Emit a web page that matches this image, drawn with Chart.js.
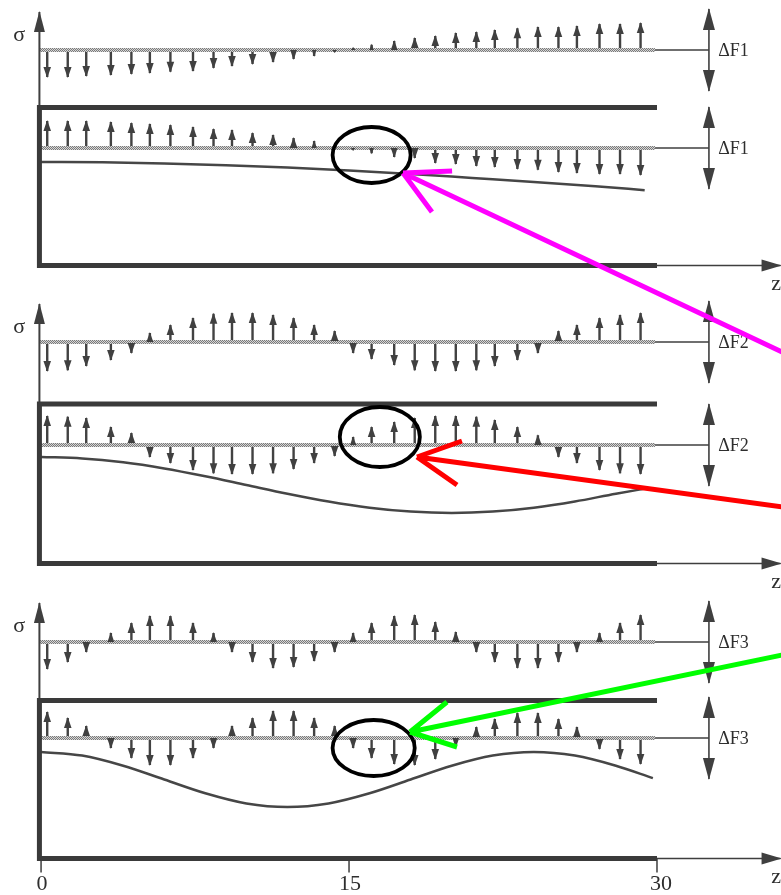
<!DOCTYPE html>
<html>
<head>
<meta charset="utf-8">
<title>Modes</title>
<script src="https://cdn.jsdelivr.net/npm/chart.js@4.4.1/dist/chart.umd.min.js"></script>
<style>
  html, body { margin: 0; padding: 0; background: #fff; }
  #wrap { position: relative; width: 781px; height: 895px; }
</style>
</head>
<body>
<div id="wrap"><canvas id="chart" width="781" height="895"></canvas></div>
<script>
// z positions of the stress arrows (same in every row)
const arrowZ = [0.3, 1.3, 2.2, 3.4, 4.4, 5.3, 6.3, 7.4, 8.4, 9.3, 10.3, 11.3, 12.3, 13.3, 14.3,
                15.2, 16.1, 17.2, 18.2, 19.2, 20.2, 21.2, 22.1, 23.2, 24.2, 25.2, 26.1, 27.2, 28.2, 29.2];

// stress, upper row / lower row of each mode (up = positive)
const sigmaTop1 = [-1.0, -1.0, -0.96, -0.93, -0.89, -0.85, -0.81, -0.78, -0.67, -0.59, -0.52, -0.44, -0.33, -0.22, -0.07,
                   0.07, 0.19, 0.33, 0.44, 0.52, 0.63, 0.67, 0.74, 0.81, 0.85, 0.85, 0.89, 0.96, 0.96, 1.0];
const sigmaBot1 = [1.0, 1.0, 1.0, 0.96, 0.93, 0.89, 0.85, 0.78, 0.70, 0.67, 0.56, 0.48, 0.37, 0.26, 0.05,
                   -0.07, -0.19, -0.33, -0.37, -0.56, -0.59, -0.67, -0.70, -0.78, -0.81, -0.89, -0.93, -0.96, -0.96, -1.0];
const sigmaTop2 = [-1.0, -0.97, -0.83, -0.62, -0.38, 0.31, 0.59, 0.83, 0.97, 1.0, 1.0, 0.93, 0.83, 0.59, 0.38,
                   -0.38, -0.59, -0.79, -0.97, -1.0, -1.0, -0.97, -0.83, -0.62, -0.38, 0.38, 0.59, 0.83, 0.93, 1.0];
const sigmaBot2 = [1.0, 0.97, 0.93, 0.62, 0.41, -0.41, -0.62, -0.86, -0.97, -1.0, -1.0, -0.97, -0.83, -0.62, -0.38,
                   0.28, 0.62, 0.79, 0.93, 1.0, 1.0, 0.97, 0.86, 0.62, 0.34, -0.41, -0.62, -0.86, -0.97, -1.0];
const sigmaTop3 = [-1.0, -0.74, -0.37, 0.33, 0.70, 0.96, 0.96, 0.70, 0.33, -0.37, -0.74, -0.96, -0.93, -0.70, -0.37,
                   0.33, 0.70, 0.96, 1.0, 0.74, 0.37, -0.37, -0.74, -0.96, -0.96, -0.74, -0.37, 0.33, 0.70, 1.0];
const sigmaBot3 = [0.96, 0.74, 0.44, -0.37, -0.74, -1.0, -1.0, -0.74, -0.37, 0.44, 0.74, 1.0, 1.0, 0.74, 0.44,
                   -0.37, -0.74, -0.96, -1.0, -0.78, -0.33, 0.41, 0.70, 0.93, 0.93, 0.70, 0.41, -0.41, -0.78, -0.96];

// deflection curves
const curveZ1 = [0, 3, 6, 9, 12, 15, 18, 21, 24, 27, 29.4];
const curveW1 = [1.0, 0.99, 0.95, 0.89, 0.81, 0.71, 0.59, 0.45, 0.31, 0.16, 0.03];
const curveZ2 = [0, 2, 4, 6, 8, 10, 12, 14, 16, 18, 20, 22, 24, 26, 28, 29.5];
const curveW2 = [1.0, 0.95, 0.81, 0.59, 0.31, 0.0, -0.31, -0.59, -0.81, -0.95, -1.0, -0.95, -0.81, -0.59, -0.31, -0.12];
const curveZ3 = [0, 2, 4, 6, 8, 10, 12, 14, 16, 18, 20, 22, 24, 26, 28, 29.8];
const curveW3 = [1.0, 0.87, 0.5, 0.0, -0.5, -0.87, -1.0, -0.87, -0.5, 0.0, 0.5, 0.87, 1.0, 0.87, 0.5, 0.05];

const zTicks = [0, 15, 30];
const modeNames = ['ΔF1', 'ΔF2', 'ΔF3'];

// layout of the three panels (y in canvas units, scale is reversed)
const panels = [
  { sigmaTip: 12, top: 50, boxTop: 107.5, bottom: 148, curveMid: 191, boxBottom: 265.5, arrowAmp: 27, curveAmp: 29 },
  { sigmaTip: 304, top: 342, boxTop: 404, bottom: 445, curveMid: 485, boxBottom: 563.5, arrowAmp: 29, curveAmp: 28 },
  { sigmaTip: 603, top: 642, boxTop: 700.5, bottom: 738, curveMid: 779.5, boxBottom: 858.5, arrowAmp: 27, curveAmp: 27.5 }
];
const rows = [[sigmaTop1, sigmaBot1], [sigmaTop2, sigmaBot2], [sigmaTop3, sigmaBot3]];
const curves = [[curveZ1, curveW1], [curveZ2, curveW2], [curveZ3, curveW3]];

// hand-drawn markers on top of the figure
const circles = [
  { z: 16.1, y: 155, rz: 1.9, ry: 28 },
  { z: 16.5, y: 437, rz: 1.95, ry: 30 },
  { z: 16.2, y: 748, rz: 2.0, ry: 28 }
];
const pointers = [
  { color: '#ff00ff', tip: [17.63, 173], tail: [36.1, 352], arms: [[20.02, 171], [19.04, 212]] },
  { color: '#ff0000', tip: [18.31, 457], tail: [36.1, 507], arms: [[20.5, 441], [20.26, 485]] },
  { color: '#00ff00', tip: [17.97, 732], tail: [36.1, 655], arms: [[19.77, 702], [20.26, 747]] }
];

const INK = '#3f3f3f';
const dfZ = 32.53;
const axisZ = -0.08;

const canvas = document.getElementById('chart');
const ctx = canvas.getContext('2d');

function stipple() {
  const c = document.createElement('canvas');
  c.width = 4; c.height = 4;
  const g = c.getContext('2d');
  g.fillStyle = '#d6d6d6';
  g.fillRect(0, 0, 4, 4);
  g.fillStyle = '#7a7a7a';
  for (let i = 0; i < 4; i++) for (let j = 0; j < 4; j++) if ((i + j) % 2 === 0) g.fillRect(i, j, 1, 1);
  return ctx.createPattern(c, 'repeat');
}
const stipplePattern = stipple();

function arrowRow(values, base, amp) {
  const pts = [];
  arrowZ.forEach((z, i) => {
    pts.push({x: z, y: base});
    pts.push({x: z, y: base - amp * values[i]});
    pts.push({x: z, y: null});
  });
  return pts;
}

function line(data, extra) {
  return Object.assign({
    data: data, showLine: true, borderColor: INK, borderWidth: 1.5,
    pointRadius: 0, fill: false, clip: false, spanGaps: false, tension: 0
  }, extra || {});
}

const datasets = [];
panels.forEach((p, k) => {
  // frame
  datasets.push(line([{x: 30, y: p.boxTop}, {x: axisZ, y: p.boxTop}, {x: axisZ, y: p.boxBottom}, {x: 30, y: p.boxBottom}],
    {borderWidth: 5, borderColor: '#3a3a3a', borderJoinStyle: 'miter', borderCapStyle: 'butt'}));
  // sigma axis
  datasets.push(line([{x: axisZ, y: p.boxTop}, {x: axisZ, y: p.sigmaTip}], {borderWidth: 2, head: {end: true, len: 20, half: 5.5}}));
  // z axis
  datasets.push(line([{x: 30, y: p.boxBottom}, {x: 36.02, y: p.boxBottom}], {borderWidth: 1.5, head: {end: true, len: 19, half: 6}}));
  [p.top, p.bottom].forEach((b, r) => {
    datasets.push(line([{x: 29.9, y: b}, {x: dfZ, y: b}], {borderWidth: 1.5}));
    datasets.push(line([{x: -0.05, y: b}, {x: 29.9, y: b}], {borderWidth: 4, borderColor: stipplePattern, borderCapStyle: 'butt'}));
    datasets.push(line(arrowRow(rows[k][r], b, p.arrowAmp), {borderWidth: 2.4, borderColor: '#424242', arrowRow: true}));
    datasets.push(line([{x: dfZ, y: b + 41}, {x: dfZ, y: b - 41}], {borderWidth: 1.6, head: {start: true, end: true, len: 21, half: 6}}));
  });
  const cz = curves[k][0], cw = curves[k][1];
  datasets.push(line(cz.map((z, i) => ({x: z, y: p.curveMid - p.curveAmp * cw[i]})),
    {borderWidth: 2.5, borderColor: '#464646', cubicInterpolationMode: 'monotone'}));
});
const last = panels[panels.length - 1];
const tickPts = [];
zTicks.forEach(t => { tickPts.push({x: t, y: last.boxBottom}, {x: t, y: last.boxBottom + 14}, {x: t, y: null}); });
datasets.push(line(tickPts, {borderWidth: 1.5}));

function drawHead(c, x0, y0, x1, y1, len, half, color) {
  const dx = x1 - x0, dy = y1 - y0;
  const d = Math.hypot(dx, dy);
  if (d < 0.5) return;
  const ux = dx / d, uy = dy / d;
  const L = Math.min(len, d);
  const W = half * Math.max(L / len, 0.6);
  const bx = x1 - ux * L, by = y1 - uy * L;
  c.beginPath();
  c.moveTo(x1 + ux, y1 + uy);
  c.lineTo(bx - uy * W, by + ux * W);
  c.lineTo(bx + uy * W, by - ux * W);
  c.closePath();
  c.fillStyle = color;
  c.fill();
}

const figurePlugin = {
  id: 'figure',
  afterDatasetsDraw(chart) {
    const c = chart.ctx;
    chart.data.datasets.forEach((ds, i) => {
      const pts = chart.getDatasetMeta(i).data;
      if (ds.arrowRow) {
        for (let k = 0; k + 1 < pts.length; k += 3) {
          drawHead(c, pts[k].x, pts[k].y, pts[k + 1].x, pts[k + 1].y, 10, 3.8, '#404040');
        }
      }
      if (ds.head) {
        const a = pts[0], b = pts[pts.length - 1];
        if (ds.head.end) drawHead(c, a.x, a.y, b.x, b.y, ds.head.len, ds.head.half, INK);
        if (ds.head.start) drawHead(c, b.x, b.y, a.x, a.y, ds.head.len, ds.head.half, INK);
      }
    });
  },
  afterDraw(chart) {
    const c = chart.ctx;
    const xs = chart.scales.x, ys = chart.scales.y;
    const px = z => xs.getPixelForValue(z);
    const py = v => ys.getPixelForValue(v);
    c.save();
    c.fillStyle = '#2e2e2e';
    c.textBaseline = 'middle';
    panels.forEach((p, k) => {
      c.font = '22px "Liberation Serif", serif';
      c.textAlign = 'center';
      c.fillText('σ', px(-1.07), py(p.sigmaTip + 23));
      c.fillText('z', px(35.8), py(p.boxBottom + 19));
      c.font = '18px "Liberation Serif", serif';
      c.textAlign = 'left';
      [p.top, p.bottom].forEach(b => c.fillText(modeNames[k], px(32.98), py(b + 1)));
    });
    c.font = '22px "Liberation Serif", serif';
    c.textAlign = 'center';
    zTicks.forEach(t => c.fillText(String(t), px(t) + (t === 30 ? 4 : 1), py(last.boxBottom + 26)));

    // circles
    c.strokeStyle = '#000';
    c.lineWidth = 3.8;
    circles.forEach(o => {
      const cx = px(o.z), cy = py(o.y);
      c.beginPath();
      c.ellipse(cx, cy, px(o.z + o.rz) - cx, Math.abs(py(o.y + o.ry) - cy), 0, 0, Math.PI * 2);
      c.stroke();
    });
    // coloured pointers
    c.lineWidth = 5;
    c.lineCap = 'butt';
    pointers.forEach(o => {
      c.strokeStyle = o.color;
      const tx = px(o.tip[0]), ty = py(o.tip[1]);
      c.beginPath();
      c.moveTo(px(o.tail[0]), py(o.tail[1]));
      c.lineTo(tx, ty);
      o.arms.forEach(a => { c.moveTo(tx, ty); c.lineTo(px(a[0]), py(a[1])); });
      c.stroke();
    });
    c.restore();
  }
};

new Chart(canvas, {
  type: 'scatter',
  data: { datasets: datasets },
  options: {
    responsive: false,
    animation: false,
    devicePixelRatio: 1,
    layout: { padding: 0 },
    scales: {
      x: { type: 'linear', min: -2.0, max: 36.04, display: false },
      y: { type: 'linear', min: 0, max: 895, reverse: true, display: false }
    },
    plugins: { legend: { display: false }, tooltip: { enabled: false } }
  },
  plugins: [figurePlugin]
});
</script>
</body>
</html>
